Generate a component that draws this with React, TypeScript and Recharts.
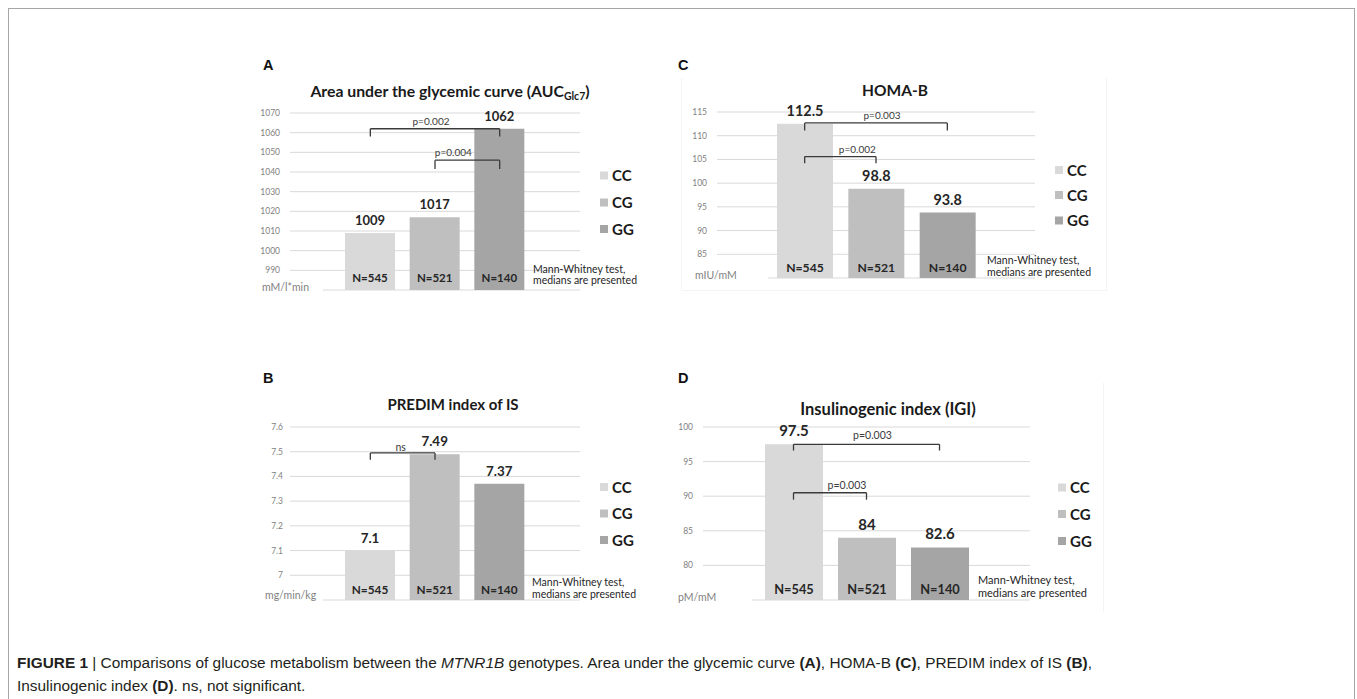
import React from 'react';
import { BarChart, Bar, XAxis, YAxis, CartesianGrid, Cell, LabelList, ReferenceLine } from 'recharts';

// ---------- data ----------
const genotypes = ['CC', 'CG', 'GG'];
const genotypeColors = ['#d9d9d9', '#bfbfbf', '#a5a5a5'];
const sampleSizes = [545, 521, 140];

const aucValues = [1009, 1017, 1062];
const aucTicks = [980, 990, 1000, 1010, 1020, 1030, 1040, 1050, 1060, 1070];
const aucBrackets = [
  { from: 'CC', to: 'GG', top: 1062, foot: 1058, text: 'p=0.002' },
  { from: 'CG', to: 'GG', top: 1046, foot: 1041.5, text: 'p=0.004' },
];

const homaValues = [112.5, 98.8, 93.8];
const homaTicks = [80, 85, 90, 95, 100, 105, 110, 115];
const homaBrackets = [
  { from: 'CC', to: 'GG', top: 112.7, foot: 111.1, text: 'p=0.003' },
  { from: 'CC', to: 'CG', top: 105.6, foot: 104.2, text: 'p=0.002' },
];

const predimValues = [7.1, 7.49, 7.37];
const predimTicks = [6.9, 7, 7.1, 7.2, 7.3, 7.4, 7.5, 7.6];
const predimBrackets = [
  { from: 'CC', to: 'CG', top: 7.495, foot: 7.467, text: 'ns' },
];

const igiValues = [97.5, 84, 82.6];
const igiTicks = [75, 80, 85, 90, 95, 100];
const igiBrackets = [
  { from: 'CC', to: 'GG', top: 97.5, foot: 96.6, text: 'p=0.003' },
  { from: 'CC', to: 'CG', top: 90.5, foot: 89.5, text: 'p=0.003' },
];

const noteLines = ['Mann-Whitney test,', 'medians are presented'];

// ---------- layout ----------
const CHART_FONT = 'Lato, "Open Sans", sans-serif';
const PAGE_FONT = '"Liberation Sans", Arial, sans-serif';

type Bracket = { from: string; to: string; top: number; foot: number; text: string };

const panels = [
  {
    letter: 'A', values: aucValues, ticks: aucTicks, brackets: aucBrackets,
    unit: 'mM/l*min',
    chart: { left: 230, top: 100, width: 360, height: 200, mt: 13, mb: 10, mr: 10, pad: 48, barSize: 50, tickMargin: 10 },
    fonts: { value: 13, n: 11.5, p: 10, title: 15.8, note: 10.5 },
    nOffset: 8, pShift: [-4, -14], pOffset: [3.5, 4.5],
    letterPos: [263, 70], titleX: 450, titleY: 96.5,
    legendX: 600, legendY: [175.5, 202.5, 229],
    noteX: 533, noteY: [272.5, 283.5],
    unitX: 262, unitY: 290.5, unitCover: [258, 323, 281, 294],
  },
  {
    letter: 'C', values: homaValues, ticks: homaTicks, brackets: homaBrackets,
    unit: 'mIU/mM',
    chart: { left: 657, top: 100, width: 388, height: 190, mt: 12, mb: 12, mr: 10, pad: 52, barSize: 56, tickMargin: 10 },
    fonts: { value: 14.4, n: 12.2, p: 10, title: 15.5, note: 10.5 },
    nOffset: 6.5, pShift: [6, 17], pOffset: [3.5, 4],
    letterPos: [678, 70], titleX: 895, titleY: 96,
    legendX: 1055, legendY: [170, 195, 220.5],
    noteX: 987, noteY: [263.5, 275.5],
    unitX: 695, unitY: 279, unitCover: [690, 768, 269, 283],
  },
  {
    letter: 'B', values: predimValues, ticks: predimTicks, brackets: predimBrackets,
    unit: 'mg/min/kg',
    chart: { left: 230, top: 415, width: 360, height: 195, mt: 12, mb: 10, mr: 10, pad: 48, barSize: 50, tickMargin: 7 },
    fonts: { value: 13.4, n: 11.8, p: 10.5, title: 15, note: 10.5 },
    nOffset: 6.5, pShift: [-2], pOffset: [2],
    letterPos: [263, 383], titleX: 453, titleY: 410,
    legendX: 600, legendY: [487, 513.5, 540],
    noteX: 532, noteY: [585.5, 597.5],
    unitX: 265, unitY: 598.5, unitCover: [260, 323, 589, 604],
  },
  {
    letter: 'D', values: igiValues, ticks: igiTicks, brackets: igiBrackets,
    unit: 'pM/mM',
    chart: { left: 643, top: 415, width: 397, height: 195, mt: 12, mb: 10, mr: 10, pad: 54, barSize: 58, tickMargin: 10 },
    fonts: { value: 15, n: 12.8, p: 10.5, title: 16.5, note: 11 },
    nOffset: 6, pShift: [6, 17], pOffset: [5, 4],
    letterPos: [678, 383], titleX: 888, titleY: 415,
    legendX: 1058, legendY: [487.5, 514, 541],
    noteX: 978, noteY: [583.5, 596.5],
    unitX: 678, unitY: 600.5, unitCover: [674, 752, 590, 605],
  },
];

const titles: Record<string, React.ReactNode> = {
  A: (
    <>
      Area under the glycemic curve (AUC
      <tspan fontSize={10.5} dy={3}>Glc7</tspan>
      <tspan dy={-3}>)</tspan>
    </>
  ),
  C: 'HOMA-B',
  B: 'PREDIM index of IS',
  D: 'Insulinogenic index (IGI)',
};

function Panel({ p }: { p: typeof panels[number] }) {
  const rows = genotypes.map((g, i) => ({
    name: g,
    value: p.values[i],
    nLabel: `N=${sampleSizes[i]}`,
  }));
  const c = p.chart;
  const f = p.fonts;
  const base = p.ticks[0];
  return (
    <div style={{ position: 'absolute', left: c.left, top: c.top, width: c.width, height: c.height, fontFamily: CHART_FONT }}>
      <BarChart width={c.width} height={c.height} data={rows} margin={{ top: c.mt, right: c.mr, bottom: c.mb, left: 0 }}>
        <CartesianGrid vertical={false} stroke="#d9d9d9" strokeWidth={1} />
        <XAxis dataKey="name" type="category" hide padding={{ left: c.pad, right: c.pad }} />
        <YAxis
          width={60}
          type="number"
          domain={[base, p.ticks[p.ticks.length - 1]]}
          ticks={p.ticks}
          allowDataOverflow
          interval={0}
          axisLine={false}
          tickLine={false}
          tickSize={0}
          tickMargin={c.tickMargin}
          tickFormatter={(v: number) => (v === base ? '' : String(v))}
          tick={{ fontSize: 8.5, fill: '#7f7f7f', fontFamily: CHART_FONT }}
        />
        <Bar dataKey="value" barSize={c.barSize} isAnimationActive={false}>
          {rows.map((r, i) => (
            <Cell key={r.name} fill={genotypeColors[i]} />
          ))}
          <LabelList dataKey="value" position="top" offset={8} fill="#262626" fontSize={f.value} fontWeight={700} fontFamily={CHART_FONT} />
          <LabelList dataKey="nLabel" position="insideBottom" offset={p.nOffset} fill="#262626" fontSize={f.n} fontWeight={700} fontFamily={CHART_FONT} />
        </Bar>
        {(p.brackets as Bracket[]).map((b, i) => (
          <React.Fragment key={i}>
            <ReferenceLine
              segment={[{ x: b.from, y: b.top }, { x: b.to, y: b.top }]}
              stroke="#3a3a3a"
              strokeWidth={1.3}
              ifOverflow="visible"
              label={{ value: b.text, position: 'top', offset: p.pOffset[i], dx: p.pShift[i], fontSize: f.p, fill: '#3a3a3a', fontFamily: CHART_FONT }}
            />
            <ReferenceLine segment={[{ x: b.from, y: b.top }, { x: b.from, y: b.foot }]} stroke="#3a3a3a" strokeWidth={1.3} ifOverflow="visible" />
            <ReferenceLine segment={[{ x: b.to, y: b.top }, { x: b.to, y: b.foot }]} stroke="#3a3a3a" strokeWidth={1.3} ifOverflow="visible" />
          </React.Fragment>
        ))}
      </BarChart>
    </div>
  );
}

function Overlay() {
  return (
    <svg width={1357} height={699} style={{ position: 'absolute', left: 0, top: 0, pointerEvents: 'none' }}>
      {/* faint pasted chart-area edges */}
      <path d="M681.5 78 V290.5 H1106.5 V78" fill="none" stroke="#f4f4f4" strokeWidth={1} />
      <path d="M1103.5 383 V612" fill="none" stroke="#f4f4f4" strokeWidth={1} />
      {panels.map((p) => (
        <g key={p.letter}>
          <text x={p.letterPos[0]} y={p.letterPos[1]} fontFamily={PAGE_FONT} fontWeight={700} fontSize={14.5} fill="#111">{p.letter}</text>
          <text x={p.titleX} y={p.titleY} textAnchor="middle" fontFamily={CHART_FONT} fontWeight={700} fontSize={p.fonts.title} fill="#1a1a1a">{titles[p.letter]}</text>
          {genotypes.map((g, i) => (
            <g key={g}>
              <rect x={p.legendX} y={p.legendY[i] - 4} width={8} height={8} fill={genotypeColors[i]} />
              <text x={p.legendX + 12} y={p.legendY[i] + 5.5} fontFamily={CHART_FONT} fontWeight={700} fontSize={15} fill="#1a1a1a">{g}</text>
            </g>
          ))}
          {noteLines.map((t, i) => (
            <text key={t} x={p.noteX} y={p.noteY[i]} fontFamily={CHART_FONT} fontSize={p.fonts.note} fill="#262626">{t}</text>
          ))}
          <rect x={p.unitCover[0]} y={p.unitCover[2]} width={p.unitCover[1] - p.unitCover[0]} height={p.unitCover[3] - p.unitCover[2]} fill="#ffffff" />
          <text x={p.unitX} y={p.unitY} fontFamily={CHART_FONT} fontSize={10.5} fill="#7f7f7f">{p.unit}</text>
        </g>
      ))}
    </svg>
  );
}

export default function App() {
  return (
    <div style={{ position: 'absolute', left: 0, top: 0, width: 1357, height: 699, background: '#fff', overflow: 'hidden' }}>
      <div style={{ position: 'absolute', left: 8, top: 8, width: 1345, height: 720, border: '1px solid #a6a6a6', borderBottom: 'none' }} />
      {panels.map((p) => (
        <Panel key={p.letter} p={p} />
      ))}
      <Overlay />
      <div style={{ position: 'absolute', left: 17, top: 651, fontFamily: PAGE_FONT, fontSize: 15.4, lineHeight: '23px', color: '#231f20', whiteSpace: 'nowrap' }}>
        <b>FIGURE 1</b> | Comparisons of glucose metabolism between the <i>MTNR1B</i> genotypes. Area under the glycemic curve <b>(A)</b>, HOMA-B <b>(C)</b>, PREDIM index of IS <b>(B)</b>,
        <br />
        Insulinogenic index <b>(D)</b>. ns, not significant.
      </div>
    </div>
  );
}
